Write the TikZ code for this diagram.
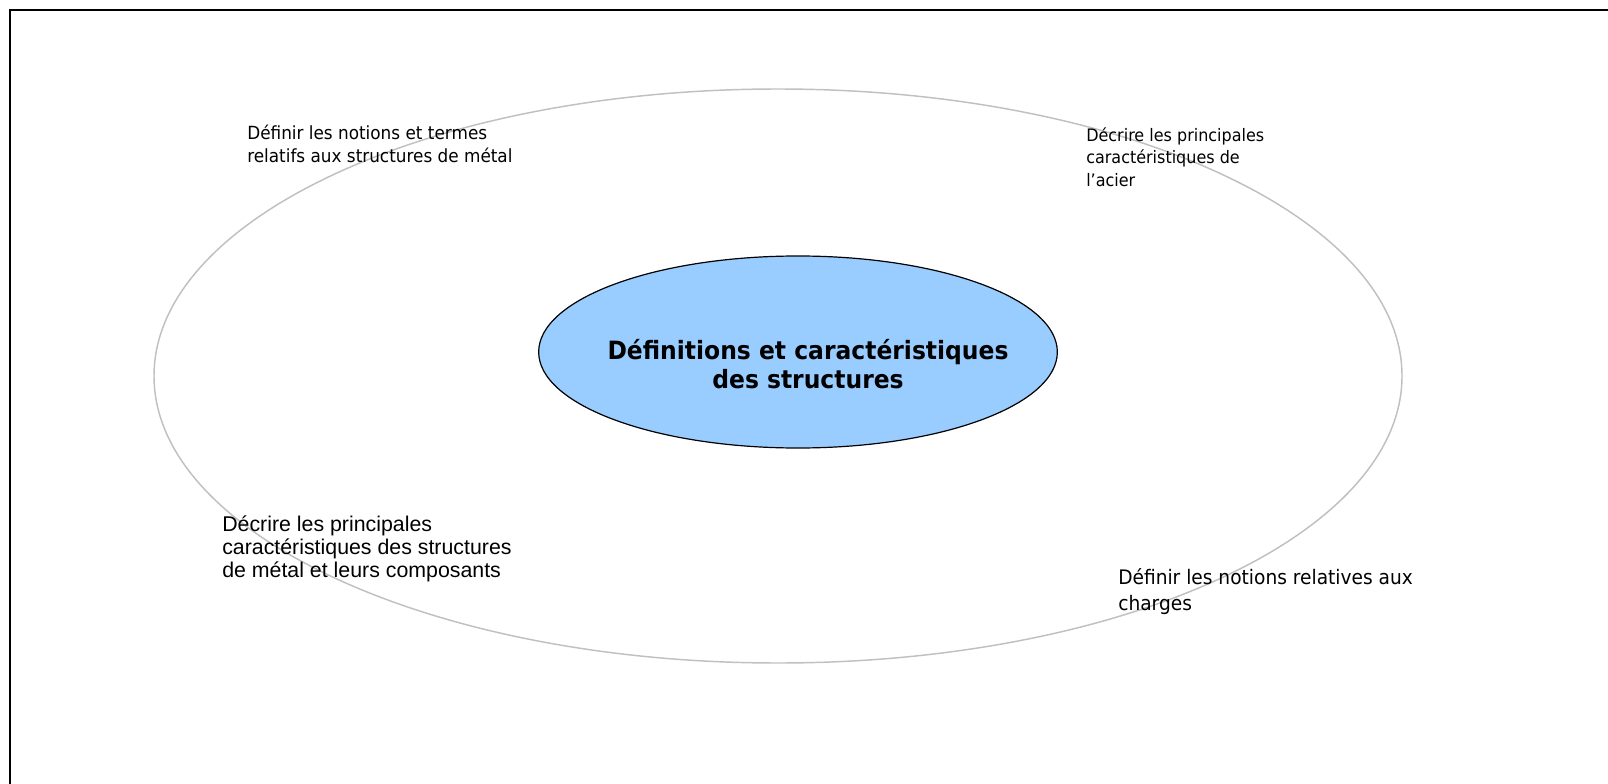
\documentclass[tikz,border=0pt]{standalone}
\usepackage{fontspec}
\usetikzlibrary{shapes.geometric}
\setmainfont{DejaVu Sans}[FakeStretch=0.93]
\newfontfamily\arialfont{Liberation Sans}
\definecolor{coreblue}{HTML}{99CCFF}
\definecolor{ringgray}{HTML}{C0C0C0}
\tikzset{
  ringshape/.style={draw=ringgray, line width=1.1pt, ellipse, inner sep=0pt,
    minimum width=936pt, minimum height=430.5pt},
  coreshape/.style={draw=black, line width=0.9pt, fill=coreblue, ellipse, inner sep=0pt,
    minimum width=389pt, minimum height=144pt},
  coretext/.style={align=center, inner sep=0pt, font=\bfseries\fontsize{18.9}{22}\selectfont},
  goaltext/.style={align=left, anchor=north west, inner sep=0pt, font=\fontsize{13.6}{16.9}\selectfont},
  goalarial/.style={goaltext, font=\arialfont\fontsize{16}{16.9}\selectfont},
  frameline/.style={draw=black, line width=1.5pt}
}
\begin{document}
\begin{tikzpicture}[x=0.75pt,y=-0.75pt]
\useasboundingbox (0,0) rectangle (1608,784);
\clip (0,0) rectangle (1608,784);
\coordinate (fbl) at (10,800);
\coordinate (ftl) at (10,10);
\coordinate (ftr) at (1620,10);
\draw[frameline] (fbl) -- (ftl) -- (ftr);
\node[ringshape] (ring) at (778,376) {};
\node[coreshape] (core) at (798,352) {};
\node[coretext] (coretitle) at (808,364) {Définitions et caractéristiques\\des structures};
\node[goaltext] (g1) at (247,125) {Définir les notions et termes\\relatifs aux structures de métal};
\node[goaltext, font=\fontsize{12.9}{16.9}\selectfont] (g2) at (1086,127) {Décrire les principales\\caractéristiques de\\l’acier};
\node[goalarial] (g3) at (222,516) {Décrire les principales\\caractéristiques des structures\\de métal et leurs composants};
\node[goaltext, font=\fontsize{15}{20}\selectfont] (g4) at (1118,568) {Définir les notions relatives aux\\charges};
\end{tikzpicture}
\end{document}
